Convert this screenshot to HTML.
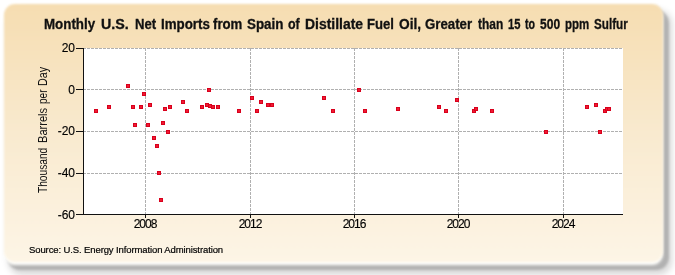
<!DOCTYPE html>
<html><head><meta charset="utf-8"><style>
html,body{margin:0;padding:0;}
body{width:675px;height:275px;overflow:hidden;background:#fff;position:relative;font-family:"Liberation Sans",sans-serif;}
.panel{position:absolute;left:3.5px;top:3.5px;width:659.5px;height:258.5px;border-radius:11px;
background:linear-gradient(to bottom,#f6ddb1 0%,#f9eacf 50%,#fdf5e6 100%);box-shadow:none;filter:blur(1px);}
.shadow{position:absolute;left:7px;top:10px;width:661.5px;height:259.5px;border-radius:13px;background:rgba(0,0,0,0.18);filter:blur(1.2px);}
.hl{position:absolute;left:3.5px;top:6.5px;width:659.5px;height:258.5px;border-radius:11px;background:rgba(255,255,252,1);filter:blur(1.5px);}
.shadow2{position:absolute;left:8px;top:10px;width:664px;height:265px;border-radius:14px;background:rgba(0,0,0,0.15);filter:blur(3px);}
.plot{position:absolute;left:84px;top:48px;width:539px;height:166px;background:#fff;}
svg{position:absolute;left:0;top:0;}
.tw{position:absolute;top:15.5px;font-weight:bold;font-size:14px;color:#111;white-space:nowrap;transform-origin:0 0;line-height:16px;-webkit-text-stroke:0.3px #111;}
.yl{will-change:transform;position:absolute;left:20px;width:55px;text-align:right;font-size:12px;line-height:14px;height:14px;margin-top:-7px;color:#000;letter-spacing:0px;-webkit-text-stroke:0.15px #000;}
.xl{will-change:transform;position:absolute;width:80px;text-align:center;top:217px;font-size:12px;line-height:14px;color:#000;letter-spacing:-1px;-webkit-text-stroke:0.15px #000;}
.ylab2{position:absolute;left:36px;top:200px;width:0;height:0;transform:rotate(-90deg);transform-origin:0 0;}
.ylab2 span{position:absolute;top:0;white-space:nowrap;font-size:12px;line-height:14px;color:#111;transform-origin:0 0;}
.src{will-change:transform;position:absolute;left:29px;top:244px;font-size:9.5px;letter-spacing:-0.11px;color:#000;white-space:nowrap;line-height:12px;-webkit-text-stroke:0.2px #000;}
</style></head><body>
<div class="shadow2"></div>
<div class="shadow"></div>
<div class="hl"></div>
<div class="panel"></div>
<div class="plot"></div>
<svg width="675" height="275" viewBox="0 0 675 275" shape-rendering="crispEdges">
<line x1="83" y1="48.5" x2="623" y2="48.5" stroke="#b0b0b0" stroke-width="1" stroke-dasharray="3 1"/>
<line x1="83" y1="89.5" x2="623" y2="89.5" stroke="#b0b0b0" stroke-width="1" stroke-dasharray="3 1"/>
<line x1="83" y1="131.5" x2="623" y2="131.5" stroke="#b0b0b0" stroke-width="1" stroke-dasharray="3 1"/>
<line x1="83" y1="173.5" x2="623" y2="173.5" stroke="#b0b0b0" stroke-width="1" stroke-dasharray="3 1"/>
<line x1="145.5" y1="48" x2="145.5" y2="214" stroke="#b0b0b0" stroke-width="1" stroke-dasharray="3 1"/>
<line x1="250.5" y1="48" x2="250.5" y2="214" stroke="#b0b0b0" stroke-width="1" stroke-dasharray="3 1"/>
<line x1="354.5" y1="48" x2="354.5" y2="214" stroke="#b0b0b0" stroke-width="1" stroke-dasharray="3 1"/>
<line x1="458.5" y1="48" x2="458.5" y2="214" stroke="#b0b0b0" stroke-width="1" stroke-dasharray="3 1"/>
<line x1="563.5" y1="48" x2="563.5" y2="214" stroke="#b0b0b0" stroke-width="1" stroke-dasharray="3 1"/>
<rect x="83" y="48" width="1" height="167" fill="#111111"/>
<rect x="83" y="214" width="540" height="1" fill="#111111"/>
<rect x="76" y="48" width="7" height="1" fill="#111111"/>
<rect x="76" y="89" width="7" height="1" fill="#111111"/>
<rect x="76" y="131" width="7" height="1" fill="#111111"/>
<rect x="76" y="173" width="7" height="1" fill="#111111"/>
<rect x="76" y="214" width="7" height="1" fill="#111111"/>
<rect x="145" y="215" width="1" height="3" fill="#111111"/>
<rect x="250" y="215" width="1" height="3" fill="#111111"/>
<rect x="354" y="215" width="1" height="3" fill="#111111"/>
<rect x="458" y="215" width="1" height="3" fill="#111111"/>
<rect x="563" y="215" width="1" height="3" fill="#111111"/>
<rect x="94" y="109" width="4" height="4" fill="#d8001c"/><rect x="95" y="110" width="2" height="2" fill="#f01a32"/>
<rect x="107" y="105" width="4" height="4" fill="#d8001c"/><rect x="108" y="106" width="2" height="2" fill="#f01a32"/>
<rect x="126" y="84" width="4" height="4" fill="#d8001c"/><rect x="127" y="85" width="2" height="2" fill="#f01a32"/>
<rect x="131" y="105" width="4" height="4" fill="#d8001c"/><rect x="132" y="106" width="2" height="2" fill="#f01a32"/>
<rect x="133" y="123" width="4" height="4" fill="#d8001c"/><rect x="134" y="124" width="2" height="2" fill="#f01a32"/>
<rect x="139" y="105" width="4" height="4" fill="#d8001c"/><rect x="140" y="106" width="2" height="2" fill="#f01a32"/>
<rect x="142" y="92" width="4" height="4" fill="#d8001c"/><rect x="143" y="93" width="2" height="2" fill="#f01a32"/>
<rect x="146" y="123" width="4" height="4" fill="#d8001c"/><rect x="147" y="124" width="2" height="2" fill="#f01a32"/>
<rect x="148" y="103" width="4" height="4" fill="#d8001c"/><rect x="149" y="104" width="2" height="2" fill="#f01a32"/>
<rect x="152" y="136" width="4" height="4" fill="#d8001c"/><rect x="153" y="137" width="2" height="2" fill="#f01a32"/>
<rect x="155" y="144" width="4" height="4" fill="#d8001c"/><rect x="156" y="145" width="2" height="2" fill="#f01a32"/>
<rect x="157" y="171" width="4" height="4" fill="#d8001c"/><rect x="158" y="172" width="2" height="2" fill="#f01a32"/>
<rect x="159" y="198" width="4" height="4" fill="#d8001c"/><rect x="160" y="199" width="2" height="2" fill="#f01a32"/>
<rect x="161" y="121" width="4" height="4" fill="#d8001c"/><rect x="162" y="122" width="2" height="2" fill="#f01a32"/>
<rect x="163" y="107" width="4" height="4" fill="#d8001c"/><rect x="164" y="108" width="2" height="2" fill="#f01a32"/>
<rect x="166" y="130" width="4" height="4" fill="#d8001c"/><rect x="167" y="131" width="2" height="2" fill="#f01a32"/>
<rect x="168" y="105" width="4" height="4" fill="#d8001c"/><rect x="169" y="106" width="2" height="2" fill="#f01a32"/>
<rect x="181" y="100" width="4" height="4" fill="#d8001c"/><rect x="182" y="101" width="2" height="2" fill="#f01a32"/>
<rect x="185" y="109" width="4" height="4" fill="#d8001c"/><rect x="186" y="110" width="2" height="2" fill="#f01a32"/>
<rect x="200" y="105" width="4" height="4" fill="#d8001c"/><rect x="201" y="106" width="2" height="2" fill="#f01a32"/>
<rect x="205" y="103" width="4" height="4" fill="#d8001c"/><rect x="206" y="104" width="2" height="2" fill="#f01a32"/>
<rect x="208" y="104" width="4" height="4" fill="#d8001c"/><rect x="209" y="105" width="2" height="2" fill="#f01a32"/>
<rect x="211" y="105" width="4" height="4" fill="#d8001c"/><rect x="212" y="106" width="2" height="2" fill="#f01a32"/>
<rect x="207" y="88" width="4" height="4" fill="#d8001c"/><rect x="208" y="89" width="2" height="2" fill="#f01a32"/>
<rect x="216" y="105" width="4" height="4" fill="#d8001c"/><rect x="217" y="106" width="2" height="2" fill="#f01a32"/>
<rect x="237" y="109" width="4" height="4" fill="#d8001c"/><rect x="238" y="110" width="2" height="2" fill="#f01a32"/>
<rect x="250" y="96" width="4" height="4" fill="#d8001c"/><rect x="251" y="97" width="2" height="2" fill="#f01a32"/>
<rect x="255" y="109" width="4" height="4" fill="#d8001c"/><rect x="256" y="110" width="2" height="2" fill="#f01a32"/>
<rect x="259" y="100" width="4" height="4" fill="#d8001c"/><rect x="260" y="101" width="2" height="2" fill="#f01a32"/>
<rect x="266" y="103" width="4" height="4" fill="#d8001c"/><rect x="267" y="104" width="2" height="2" fill="#f01a32"/>
<rect x="270" y="103" width="4" height="4" fill="#d8001c"/><rect x="271" y="104" width="2" height="2" fill="#f01a32"/>
<rect x="322" y="96" width="4" height="4" fill="#d8001c"/><rect x="323" y="97" width="2" height="2" fill="#f01a32"/>
<rect x="331" y="109" width="4" height="4" fill="#d8001c"/><rect x="332" y="110" width="2" height="2" fill="#f01a32"/>
<rect x="357" y="88" width="4" height="4" fill="#d8001c"/><rect x="358" y="89" width="2" height="2" fill="#f01a32"/>
<rect x="363" y="109" width="4" height="4" fill="#d8001c"/><rect x="364" y="110" width="2" height="2" fill="#f01a32"/>
<rect x="396" y="107" width="4" height="4" fill="#d8001c"/><rect x="397" y="108" width="2" height="2" fill="#f01a32"/>
<rect x="437" y="105" width="4" height="4" fill="#d8001c"/><rect x="438" y="106" width="2" height="2" fill="#f01a32"/>
<rect x="444" y="109" width="4" height="4" fill="#d8001c"/><rect x="445" y="110" width="2" height="2" fill="#f01a32"/>
<rect x="455" y="98" width="4" height="4" fill="#d8001c"/><rect x="456" y="99" width="2" height="2" fill="#f01a32"/>
<rect x="472" y="109" width="4" height="4" fill="#d8001c"/><rect x="473" y="110" width="2" height="2" fill="#f01a32"/>
<rect x="474" y="107" width="4" height="4" fill="#d8001c"/><rect x="475" y="108" width="2" height="2" fill="#f01a32"/>
<rect x="490" y="109" width="4" height="4" fill="#d8001c"/><rect x="491" y="110" width="2" height="2" fill="#f01a32"/>
<rect x="544" y="130" width="4" height="4" fill="#d8001c"/><rect x="545" y="131" width="2" height="2" fill="#f01a32"/>
<rect x="585" y="105" width="4" height="4" fill="#d8001c"/><rect x="586" y="106" width="2" height="2" fill="#f01a32"/>
<rect x="594" y="103" width="4" height="4" fill="#d8001c"/><rect x="595" y="104" width="2" height="2" fill="#f01a32"/>
<rect x="598" y="130" width="4" height="4" fill="#d8001c"/><rect x="599" y="131" width="2" height="2" fill="#f01a32"/>
<rect x="603" y="109" width="4" height="4" fill="#d8001c"/><rect x="604" y="110" width="2" height="2" fill="#f01a32"/>
<rect x="605" y="107" width="4" height="4" fill="#d8001c"/><rect x="606" y="108" width="2" height="2" fill="#f01a32"/>
<rect x="607" y="107" width="4" height="4" fill="#d8001c"/><rect x="608" y="108" width="2" height="2" fill="#f01a32"/>
</svg>
<span class="tw" style="left:44.4px;transform:scaleX(0.9531)">Monthly</span>
<span class="tw" style="left:100.8px;transform:scaleX(1.02)">U.S.</span>
<span class="tw" style="left:134.8px;transform:scaleX(0.9382)">Net</span>
<span class="tw" style="left:160.8px;transform:scaleX(0.9527)">Imports</span>
<span class="tw" style="left:213.2px;transform:scaleX(0.943)">from</span>
<span class="tw" style="left:246.8px;transform:scaleX(0.9563)">Spain</span>
<span class="tw" style="left:287.8px;transform:scaleX(0.8865)">of</span>
<span class="tw" style="left:304.8px;transform:scaleX(0.9942)">Distillate</span>
<span class="tw" style="left:367.0px;transform:scaleX(0.9353)">Fuel</span>
<span class="tw" style="left:398.8px;transform:scaleX(0.9787)">Oil,</span>
<span class="tw" style="left:425.4px;transform:scaleX(0.9463)">Greater</span>
<span class="tw" style="left:477.8px;transform:scaleX(0.853)">than</span>
<span class="tw" style="left:507.6px;transform:scaleX(0.797)">15</span>
<span class="tw" style="left:525.2px;transform:scaleX(0.7585)">to</span>
<span class="tw" style="left:539.6px;transform:scaleX(0.8589)">500</span>
<span class="tw" style="left:565.0px;transform:scaleX(0.82)">ppm</span>
<span class="tw" style="left:593.7px;transform:scaleX(0.8354)">Sulfur</span>
<div class="yl" style="top:48px">20</div>
<div class="yl" style="top:90px">0</div>
<div class="yl" style="top:131px">-20</div>
<div class="yl" style="top:173px">-40</div>
<div class="yl" style="top:215px">-60</div>
<div class="xl" style="left:104.5px">2008</div>
<div class="xl" style="left:209.5px">2012</div>
<div class="xl" style="left:313.5px">2016</div>
<div class="xl" style="left:417.5px">2020</div>
<div class="xl" style="left:522.5px">2024</div>
<div class="ylab2"><span style="left:7.0px;transform:scaleX(0.8477)">Thousand</span><span style="left:56.5px;transform:scaleX(0.922)">Barrels</span><span style="left:96.0px;transform:scaleX(0.8335)">per</span><span style="left:113.5px;transform:scaleX(0.8935)">Day</span></div>
<div class="src">Source: U.S. Energy Information Administration</div>
</body></html>
